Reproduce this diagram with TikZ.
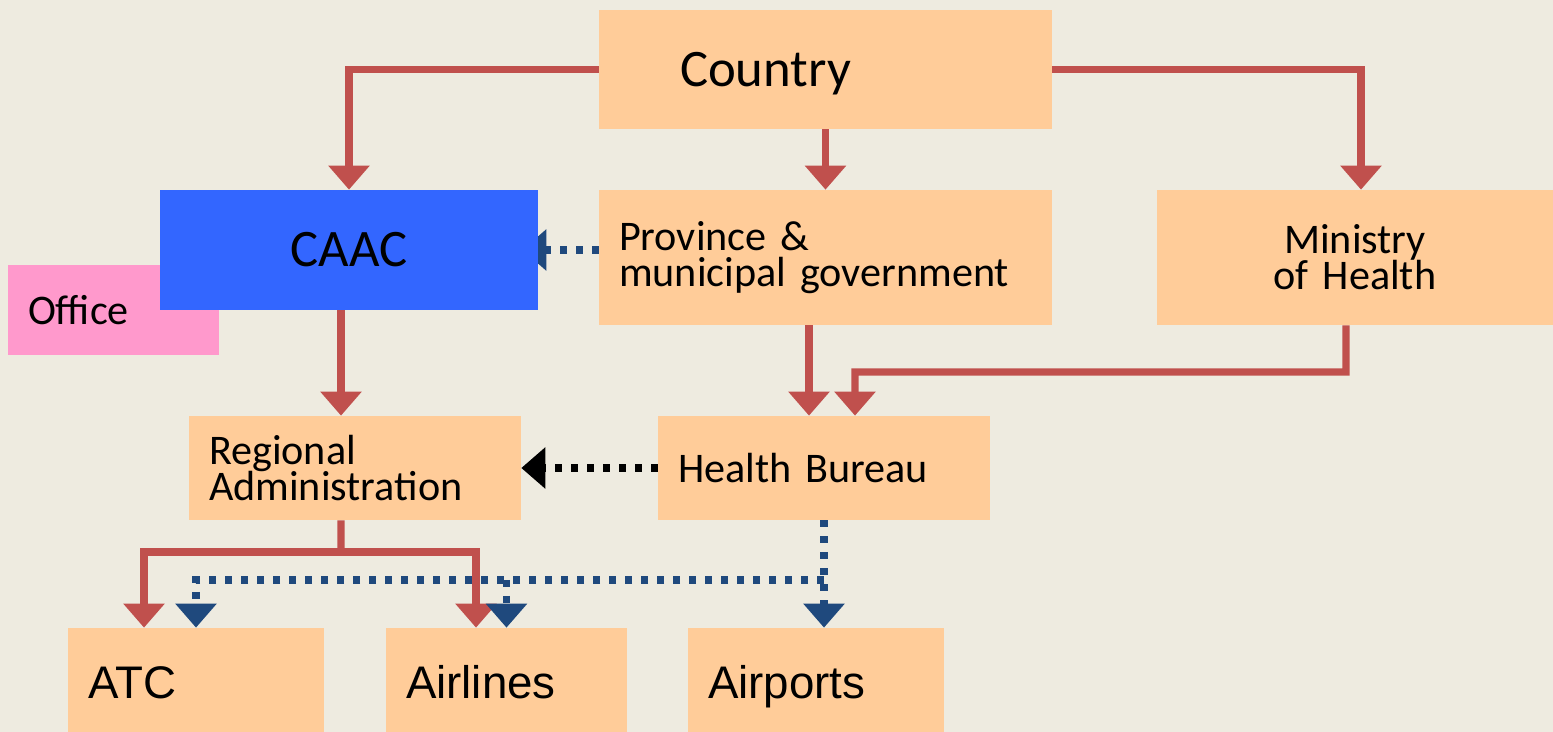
\documentclass[tikz,border=0pt]{standalone}
\usepackage{fontspec}
\setmainfont{Carlito}
\newfontfamily\arialf{Liberation Sans}
\usetikzlibrary{arrows.meta,calc}
\pgfdeclarelayer{bg}
\pgfdeclarelayer{lines}
\pgfsetlayers{bg,lines,main}
\definecolor{bgc}{RGB}{238,235,224}
\definecolor{boxc}{RGB}{255,204,153}
\definecolor{redc}{RGB}{192,80,77}
\definecolor{dblue}{RGB}{31,73,125}
\definecolor{caacc}{RGB}{51,102,255}
\definecolor{pinkc}{RGB}{255,153,204}
\newcommand{\tightls}{\lineskiplimit=-30pt\relax\lineskip=0pt\relax}
\begin{document}
\begin{tikzpicture}[x=0.02cm,y=-0.02cm,
  box/.style={fill=boxc, draw=none, inner xsep=0.4cm, inner ysep=0pt, align=left,
    font=\fontsize{24}{20.5}\selectfont\tightls},
  bigtxt/.style={font=\arialf\fontsize{26}{30}\selectfont, text height=27pt, text depth=6pt},
  redarr/.style={draw=redc, line width=4pt, line cap=butt,
    -{Triangle[width=0.8cm,length=0.48cm]}},
  redln/.style={draw=redc, line width=4pt, line cap=butt},
  bluedot/.style={draw=dblue, line width=4pt, line cap=butt,
    dash pattern=on 0.14cm off 0.18cm},
  bluearr/.style={bluedot, -{Triangle[width=0.8cm,length=0.48cm]}},
  blackarr/.style={draw=black, line width=4pt, line cap=butt,
    dash pattern=on 0.14cm off 0.18cm, -{Triangle[width=0.8cm,length=0.48cm]}}
]
\begin{pgfonlayer}{bg}
\fill[bgc] (0,0) rectangle (1553,732);
\end{pgfonlayer}
\useasboundingbox (0,0) rectangle (1553,732);

\node[box, minimum width=9.06cm, minimum height=2.38cm, text width=8.26cm,
  font=\fontsize{30}{36}\selectfont, text height=26pt, text depth=7pt]
  (country) at (825.5,69.5) {\hspace*{1.22cm}Country};
\node[box, fill=pinkc, minimum width=4.22cm, minimum height=1.8cm, text width=3.42cm]
  (office) at (113.5,310) {Of{}f{}ice};
\node[box, fill=caacc, minimum width=7.56cm, minimum height=2.4cm, text width=6.76cm,
  align=center, font=\fontsize{30}{36}\selectfont] (caac) at (349,250) {CAAC};
\node[box, minimum width=9.06cm, minimum height=2.7cm, text width=8.26cm]
  (prov) at (825.5,257.5) {Province \&\\municipal government};
\node[box, minimum width=7.92cm, minimum height=2.7cm, text width=7.12cm, align=center]
  (min) at (1355,257.5) {Ministry\\of Health};
\node[box, minimum width=6.64cm, minimum height=2.08cm, text width=5.84cm]
  (reg) at (355,468) {Regional\\Administration};
\node[box, minimum width=6.64cm, minimum height=2.08cm, text width=5.84cm]
  (health) at (824,468) {Health Bureau};
\node[box, bigtxt, minimum width=5.12cm, minimum height=2.08cm, text width=4.32cm]
  (atc) at (196,680) {ATC};
\node[box, bigtxt, minimum width=4.82cm, minimum height=2.08cm, text width=4.02cm]
  (airlines) at (506.5,680) {Airlines};
\node[box, bigtxt, minimum width=5.12cm, minimum height=2.08cm, text width=4.32cm]
  (airports) at (816,680) {Airports};

\coordinate (rb) at (341,552);
\coordinate (mj) at (1346,372);
\coordinate (bj) at (824,580);

\begin{pgfonlayer}{lines}
\draw[redarr] (country.west) -| (caac.north);
\draw[redarr] (country.south) -- (prov.north);
\draw[redarr] (country.east) -| ([xshift=0.12cm]min.north);
\draw[bluearr, shorten >=-0.32cm] (prov.west |- caac.east) -- (caac.east);
\draw[redarr] ([xshift=-0.16cm]caac.south) -- ([xshift=-0.16cm]caac.south |- reg.north);
\draw[redarr] ([xshift=-0.33cm]prov.south) -- ([xshift=-0.33cm]prov.south |- health.north);
\draw[redarr] ([xshift=-0.18cm]min.south) -- (mj) -| ([xshift=0.62cm]health.north);
\draw[blackarr] (health.west) -- (reg.east);
\draw[redln] ([xshift=-0.28cm]reg.south) -- (rb);
\draw[redarr] (rb) -| ([xshift=-1.04cm]atc.north);
\draw[redarr] (rb) -| ([xshift=-0.61cm]airlines.north);
\draw[bluearr] (health.south) -- (health.south |- airports.north);
\draw[bluearr] (bj) -| (atc.north);
\draw[bluearr] (airlines.north |- bj) -- (airlines.north);
\end{pgfonlayer}
\end{tikzpicture}
\end{document}
